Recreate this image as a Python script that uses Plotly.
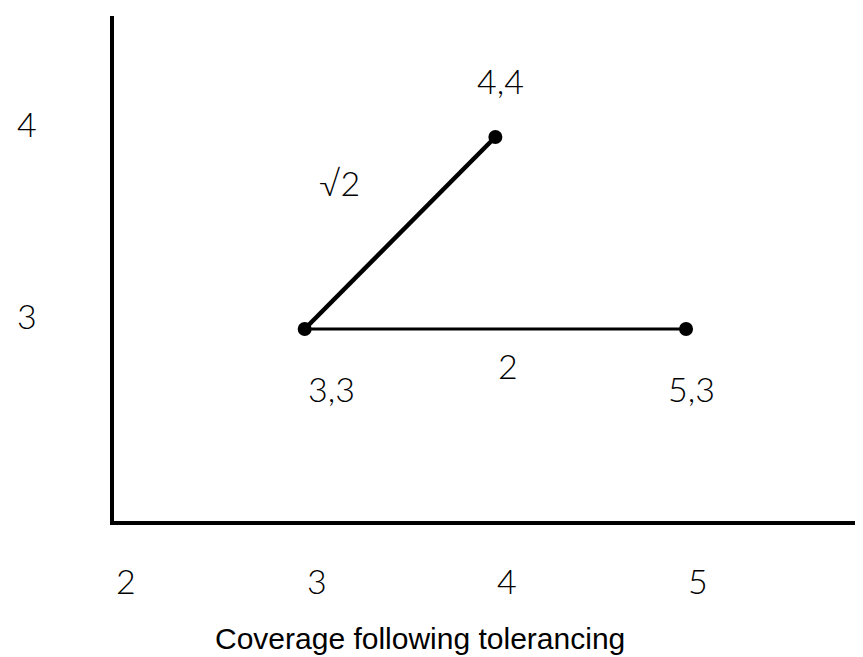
import plotly.graph_objects as go

# vertices of the little triangle
pt_x = [3, 4, 5]
pt_y = [3, 4, 3]
pt_labels = ["3,3", "4,4", "5,3"]

# edges: (from index, to index), label, width
edges = [(0, 1), (0, 2)]
edge_labels = ["\u221a2", "2"]
edge_widths = [4.5, 3]

x_ticks = [2, 3, 4, 5]
y_ticks = [3, 4]
x_title = "Coverage following tolerancing"

W, H = 863, 657
L, R, T, B = 106, 0, 8, 144
x_range = [2, 5.97]
y_range = [2, 4.63]

num_font = dict(family="Lato", size=34, color="black", weight=300)

fig = go.Figure()

for (a, b), w in zip(edges, edge_widths):
    fig.add_trace(go.Scatter(
        x=[pt_x[a], pt_x[b]], y=[pt_y[a], pt_y[b]],
        mode="lines", line=dict(color="black", width=w),
        hoverinfo="skip", showlegend=False))

fig.add_trace(go.Scatter(
    x=pt_x, y=pt_y, mode="markers",
    marker=dict(color="black", size=14),
    showlegend=False))

# point labels, nudged like the original
pt_shift = [(27, -60), (5, 56), (5, -60)]
for x, y, t, (dx, dy) in zip(pt_x, pt_y, pt_labels, pt_shift):
    fig.add_annotation(x=x, y=y, text=t, showarrow=False,
                       xshift=dx, yshift=dy, font=num_font)

# edge labels near the middle of each edge
edge_shift = [(-61, 50), (13, -37)]
for (a, b), t, (dx, dy) in zip(edges, edge_labels, edge_shift):
    mx = (pt_x[a] + pt_x[b]) / 2
    my = (pt_y[a] + pt_y[b]) / 2
    fig.add_annotation(x=mx, y=my, text=t, showarrow=False,
                       xshift=dx, yshift=dy, font=num_font)

# tick labels sit well away from the axes
for v in x_ticks:
    fig.add_annotation(x=v, y=y_range[0], text=str(v), showarrow=False,
                       xshift=12, yshift=-59, font=num_font)
for v in y_ticks:
    fig.add_annotation(x=x_range[0], y=v, text=str(v), showarrow=False,
                       xshift=-87, yshift=13, font=num_font)

fig.add_annotation(xref="paper", yref="paper", x=0.404, y=-0.2317,
                   xanchor="center", yanchor="middle",
                   text=x_title, showarrow=False,
                   font=dict(family="Liberation Sans", size=30, color="black"))

fig.update_xaxes(range=x_range, showgrid=False, zeroline=False,
                 showticklabels=False, ticks="",
                 showline=True, linewidth=4, linecolor="black")
fig.update_yaxes(range=y_range, showgrid=False, zeroline=False,
                 showticklabels=False, ticks="",
                 showline=True, linewidth=4, linecolor="black")

fig.update_layout(
    width=W, height=H,
    margin=dict(l=L, r=R, t=T, b=B),
    plot_bgcolor="white", paper_bgcolor="white",
)

fig.write_html("out.html")
